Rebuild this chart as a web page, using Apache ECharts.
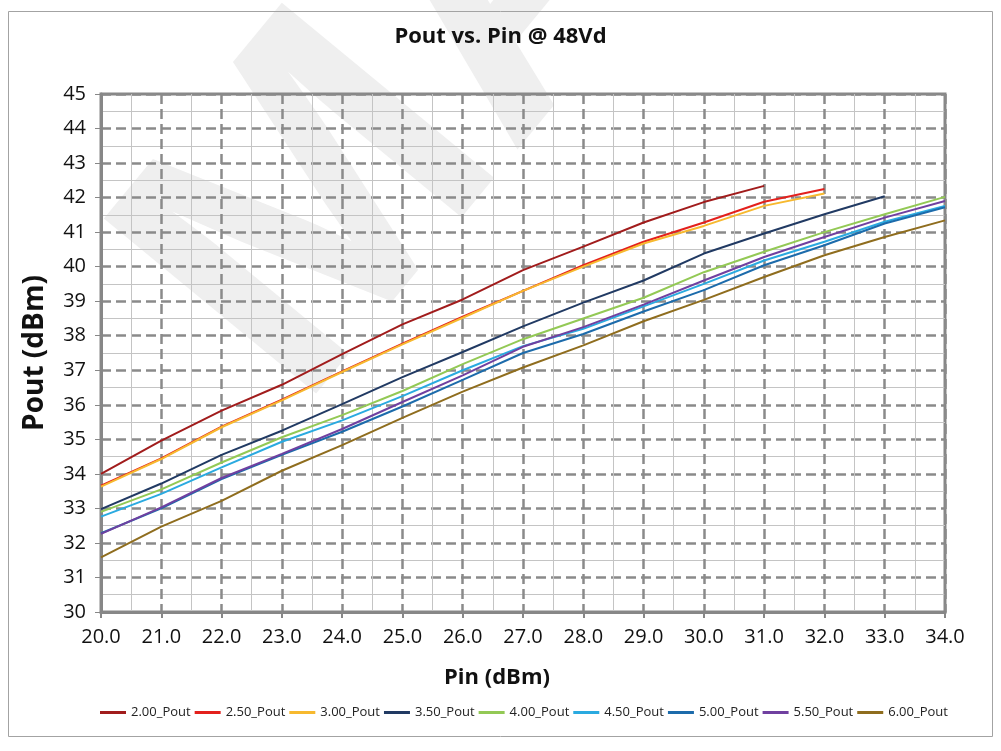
<!DOCTYPE html>
<html>
<head>
<meta charset="utf-8">
<script src="https://cdn.jsdelivr.net/npm/echarts@6/dist/echarts.min.js"></script>
<style>
html,body{margin:0;padding:0;background:#fff;}
#c{width:1001px;height:751px;}
</style>
</head>
<body>
<div id="c"></div>
<script>
// Pin (dBm) sample points
const pin = [20, 21, 22, 23, 24, 25, 26, 27, 28, 29, 30, 31, 32, 33, 34];

const seriesNames = ['2.00_Pout', '2.50_Pout', '3.00_Pout', '3.50_Pout', '4.00_Pout',
                     '4.50_Pout', '5.00_Pout', '5.50_Pout', '6.00_Pout'];

// Pout (dBm) per series, starting at Pin = 20
const pout200 = [34.0, 34.96, 35.83, 36.58, 37.47, 38.33, 39.05, 39.9, 40.58, 41.28, 41.87, 42.34];
const pout250 = [33.66, 34.45, 35.37, 36.15, 36.97, 37.77, 38.55, 39.3, 40.04, 40.72, 41.28, 41.88, 42.25];
const pout300 = [33.63, 34.43, 35.35, 36.13, 36.95, 37.75, 38.52, 39.3, 40.0, 40.67, 41.18, 41.76, 42.12];
const pout350 = [32.98, 33.72, 34.55, 35.25, 36.02, 36.8, 37.53, 38.27, 38.96, 39.6, 40.38, 40.96, 41.52, 42.04];
const pout400 = [32.9, 33.55, 34.33, 35.06, 35.7, 36.4, 37.18, 37.9, 38.5, 39.1, 39.84, 40.43, 41.0, 41.52, 42.02];
const pout450 = [32.76, 33.42, 34.19, 34.93, 35.55, 36.25, 37.0, 37.7, 38.2, 38.85, 39.5, 40.18, 40.72, 41.3, 41.76];
const pout500 = [32.28, 33.0, 33.85, 34.55, 35.22, 35.95, 36.72, 37.5, 38.05, 38.7, 39.32, 40.04, 40.62, 41.25, 41.72];
const pout550 = [32.26, 33.03, 33.88, 34.58, 35.3, 36.08, 36.85, 37.68, 38.25, 38.9, 39.6, 40.28, 40.86, 41.42, 41.9];
const pout600 = [31.58, 32.47, 33.22, 34.09, 34.83, 35.62, 36.38, 37.08, 37.72, 38.42, 39.04, 39.7, 40.33, 40.86, 41.34];

const watermarkText = 'MACOM';

const allValues = [pout200, pout250, pout300, pout350, pout400, pout450, pout500, pout550, pout600];
const colors = ['#a11c1c', '#e3201c', '#f7b92f', '#213a63', '#93c955', '#2aaae0', '#1c6bab', '#7040a0', '#8f6d1e'];

const FONT = 'Open Sans';
const chart = echarts.init(document.getElementById('c'), null, {renderer: 'canvas'});

const series = allValues.map((vals, k) => ({
  name: seriesNames[k],
  type: 'line',
  data: vals.map((v, i) => [pin[i], v]),
  showSymbol: false,
  symbol: 'none',
  smooth: false,
  lineStyle: {color: colors[k], width: 2},
  itemStyle: {color: colors[k]},
  emphasis: {disabled: true},
  z: 3
}));

const gridLine = {show: true, lineStyle: {color: '#8a8a8a', width: 2.5, type: [10, 5]}};
const minorLine = {show: true, lineStyle: {color: '#c4c4c4', width: 1}};

chart.setOption({
  animation: false,
  backgroundColor: '#fff',
  title: {
    text: 'Pout vs. Pin @ 48Vd',
    left: 'center',
    top: 21,
    textStyle: {fontFamily: FONT, fontSize: 22, fontWeight: 'bold', color: '#111'}
  },
  legend: {
    data: seriesNames,
    left: 95,
    top: 701,
    icon: 'rect',
    itemWidth: 26,
    itemHeight: 3,
    itemGap: 4,
    textStyle: {fontFamily: FONT, fontSize: 13, color: '#222'}
  },
  grid: {
    left: 101, right: 56, top: 94, bottom: 139,
    show: true, borderColor: '#878787', borderWidth: 3, backgroundColor: 'transparent'
  },
  xAxis: {
    type: 'value',
    min: 20, max: 34, interval: 1,
    name: 'Pin (dBm)',
    nameLocation: 'middle',
    nameGap: 55,
    nameTextStyle: {fontFamily: FONT, fontSize: 22, fontWeight: 'bold', color: '#111', padding: [0, 52, 0, 0]},
    axisLine: {show: true, lineStyle: {color: '#878787', width: 3}},
    axisTick: {show: true, inside: false, length: 6, lineStyle: {color: '#878787', width: 2}},
    axisLabel: {fontFamily: FONT, fontSize: 20, color: '#111', margin: 15, formatter: v => v.toFixed(1)},
    splitLine: gridLine,
    minorTick: {show: false, splitNumber: 2},
    minorSplitLine: minorLine
  },
  yAxis: {
    type: 'value',
    min: 30, max: 45, interval: 1,
    name: 'Pout (dBm)',
    nameLocation: 'middle',
    nameGap: 52,
    nameTextStyle: {fontFamily: FONT, fontSize: 28, fontWeight: 'bold', color: '#111'},
    axisLine: {show: true, lineStyle: {color: '#878787', width: 3}},
    axisTick: {show: true, inside: false, length: 6, lineStyle: {color: '#878787', width: 1}},
    axisLabel: {fontFamily: FONT, fontSize: 20, color: '#111', margin: 15},
    splitLine: gridLine,
    minorTick: {show: false, splitNumber: 2},
    minorSplitLine: minorLine
  },
  graphic: [
    {
      type: 'text',
      silent: true,
      z: -10,
      x: 214, y: 344,
      rotation: 0.881,
      style: {
        text: watermarkText,
        font: 'bold 400px "Liberation Sans"',
        fill: '#efefef',
        align: 'left',
        verticalAlign: 'middle'
      }
    },
    {
      type: 'rect',
      silent: true,
      z: -5,
      shape: {x: 8.5, y: 11.5, width: 984, height: 725},
      style: {fill: 'none', stroke: '#a3a3a3', lineWidth: 1}
    }
  ],
  series: series
});
</script>
</body>
</html>
